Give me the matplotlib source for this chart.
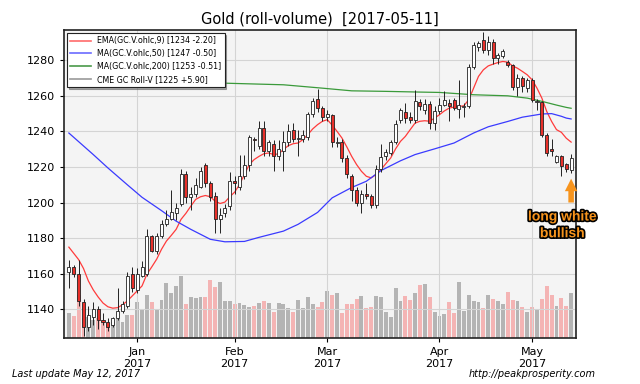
import numpy as np
import matplotlib
matplotlib.use('Agg')
import matplotlib.pyplot as plt
from matplotlib.lines import Line2D
import matplotlib.patheffects as pe

# Daily OHLC, 2016-12-12 .. 2017-05-11 (trading days)
opens = [1161, 1164, 1160, 1144, 1130, 1136, 1140, 1134, 1133, 1131,
         1135, 1139, 1142, 1160, 1151, 1159, 1160, 1181, 1173, 1181,
         1188, 1191, 1194, 1199, 1216, 1203, 1205, 1209, 1221, 1211,
         1204, 1191, 1194, 1198, 1212, 1209, 1215, 1221, 1236, 1232,
         1242, 1229, 1233, 1226, 1229, 1234, 1241, 1236, 1236, 1237,
         1250, 1258, 1253, 1248, 1249, 1233.5, 1234, 1225, 1215, 1207,
         1200, 1205, 1203.5, 1198.4, 1219, 1226, 1228, 1234, 1246.6, 1251,
         1248, 1246.6, 1256.3, 1252.2, 1255.5, 1244.7, 1251.3, 1255, 1256, 1257.4,
         1252.7, 1253.7, 1254.4, 1276, 1287.7, 1291.4, 1285.8, 1290.5, 1281, 1282.4,
         1279, 1277.4, 1264.9, 1269.9, 1264.3, 1269, 1256.7, 1256.8, 1238, 1230,
         1222.7, 1226.4, 1221.7, 1218.6]
highs = [1168, 1165, 1168, 1146, 1142, 1144, 1142, 1138, 1135, 1136,
         1152, 1145, 1161, 1164, 1163, 1167, 1185, 1182, 1183, 1190,
         1196, 1207, 1200, 1219, 1218, 1209, 1214, 1220, 1222, 1212,
         1206, 1197, 1199, 1217, 1215, 1227, 1227, 1238, 1237, 1246,
         1246, 1235, 1235, 1235, 1240, 1244, 1245, 1241, 1241, 1251,
         1259, 1264, 1254, 1252, 1250, 1237, 1236, 1227, 1216, 1209,
         1207, 1211, 1205, 1221, 1233, 1230, 1235, 1246.5, 1253, 1256,
         1251, 1263.4, 1258, 1258, 1257, 1254, 1259, 1262.5, 1258, 1259,
         1269, 1256, 1278, 1290, 1291, 1296, 1293.6, 1292, 1284, 1286.5,
         1280, 1278, 1272, 1271, 1270, 1270, 1258, 1257, 1239, 1236,
         1227, 1227, 1222, 1227.5]
lows = [1152, 1158, 1142, 1125, 1128, 1131, 1129, 1131, 1128, 1130,
        1134, 1138, 1141, 1150, 1149, 1158, 1159, 1172, 1171, 1180,
        1187, 1190, 1190, 1198, 1200, 1196, 1203, 1208, 1209, 1201,
        1183, 1183, 1192, 1196, 1205, 1207, 1213, 1218, 1229, 1230,
        1226, 1226, 1218, 1224, 1218, 1232, 1234, 1226, 1234, 1235,
        1248, 1251, 1246, 1246, 1231, 1231, 1223, 1214, 1201, 1198,
        1194, 1202, 1197, 1197, 1217, 1224, 1227, 1233, 1245, 1245,
        1245, 1245, 1252, 1250, 1241.5, 1241, 1250, 1254, 1246, 1252,
        1247.5, 1248, 1253, 1275, 1285, 1284, 1283, 1278, 1278, 1281,
        1276, 1263, 1260, 1262, 1262, 1256.5, 1252, 1237, 1226, 1226,
        1222, 1214.8, 1217, 1216.6]
closes = [1164, 1160, 1145, 1130, 1137, 1140, 1134, 1133, 1130, 1135,
          1139, 1143, 1159, 1152, 1160, 1164, 1181, 1173, 1181, 1188,
          1191, 1195, 1197, 1216, 1203, 1205, 1210, 1218, 1211, 1203,
          1191, 1193, 1197, 1212, 1211, 1215, 1221, 1237, 1235, 1242,
          1229, 1234, 1226, 1230, 1234, 1240, 1236, 1236.5, 1238, 1250,
          1257, 1253, 1248, 1250, 1234, 1234, 1225, 1216, 1207, 1200,
          1204.6, 1203.5, 1198.4, 1219, 1225.7, 1228.3, 1234, 1244.3, 1251.8, 1247.5,
          1246.6, 1256.9, 1254.4, 1255.5, 1244.7, 1251.3, 1255, 1257.8, 1254, 1253,
          1255, 1254.4, 1276, 1288.6, 1289.5, 1285.8, 1290.5, 1281, 1282.7, 1285.4,
          1277.4, 1264.9, 1270, 1265.3, 1269, 1257.4, 1257.2, 1238.2, 1228, 1229,
          1226, 1220.8, 1219.1, 1225]
# volume, thousand contracts
volume = [152, 132, 258, 120, 126, 108, 120, 96, 78, 96,
          114, 96, 138, 138, 216, 168, 258, 216, 168, 228,
          330, 270, 312, 372, 204, 246, 240, 246, 246, 348,
          306, 336, 222, 222, 204, 210, 198, 183, 189, 207,
          224, 212, 158, 212, 204, 182, 154, 228, 182, 244,
          202, 188, 218, 284, 258, 268, 148, 204, 202, 232,
          252, 178, 188, 252, 244, 158, 124, 298, 222, 252,
          228, 272, 318, 322, 244, 158, 129, 144, 218, 148,
          338, 164, 258, 222, 218, 178, 258, 234, 222, 204,
          274, 228, 222, 188, 158, 188, 168, 232, 312, 258,
          192, 238, 192, 268]

ema9 = [1175, 1171.5, 1168, 1163, 1156, 1151, 1147, 1143.6, 1141.5, 1140.7,
        1141, 1142.6, 1144.8, 1147.6, 1150.4, 1153.2, 1159.8, 1163.9, 1168.2, 1173.8,
        1178.4, 1181.6, 1185, 1190.6, 1194, 1198, 1201.8, 1203.3, 1204, 1203.3,
        1200.8, 1199.5, 1200.3, 1203.3, 1205.9, 1210.2, 1215.8, 1221.4, 1224.2, 1226,
        1227.5, 1227.9, 1227, 1227.4, 1229.8, 1232, 1233.1, 1233.5, 1235.4, 1238.2,
        1241.4, 1243.8, 1245.7, 1246.6, 1243.5, 1240, 1236.3, 1231.3, 1226, 1221.4,
        1217.6, 1214.8, 1213.9, 1215.8, 1218.6, 1221.9, 1225.1, 1230.2, 1234.4, 1237.2,
        1241, 1244.7, 1245.7, 1246, 1245.7, 1247.5, 1249.4, 1251.5, 1253.1, 1253.7,
        1254, 1254.4, 1257.8, 1264.3, 1270.9, 1274.6, 1276.8, 1277.8, 1278.7, 1279.3,
        1278.9, 1276.8, 1275.5, 1273.7, 1271.8, 1269, 1264.3, 1258.7, 1251.2, 1245.6,
        1241, 1239.5, 1236.2, 1234.0]
ma50_idx = [0, 5, 8, 12, 15, 19, 22, 25, 29, 32, 36, 39, 44, 47, 51, 54, 58,
            61, 64, 68, 71, 75, 79, 83, 86, 90, 93, 97, 99, 101, 102, 103]
ma50 = [1239.1, 1227, 1219.5, 1210, 1203, 1195.5, 1189.6, 1185, 1179.4, 1178,
        1178.2, 1180.5, 1184, 1187.8, 1194.5, 1202.7, 1208.5, 1212, 1218, 1223.5,
        1227, 1230.2, 1233.5, 1239.1, 1242.6, 1245.6, 1248, 1249.8, 1250, 1248.5,
        1247.5, 1247]
ma200_idx = [0, 20, 32, 44, 52, 58, 65, 72, 76, 83, 90, 94, 97, 100, 102, 103]
ma200 = [1270, 1268.5, 1267.1, 1266.2, 1264.3, 1262.8, 1262.5, 1262.1, 1261.9,
         1260.6, 1260, 1258.7, 1256.9, 1254.8, 1253.5, 1253]

month_pos = [14, 34, 53, 76, 95]
month_labels = ['Jan\n2017', 'Feb\n2017', 'Mar\n2017', 'Apr\n2017', 'May\n2017']

x = np.arange(len(closes))
o = np.array(opens); c = np.array(closes)
up = c >= o

fig = plt.figure(figsize=(6.4, 3.84), dpi=100)
ax = fig.add_axes([0.1, 0.12, 0.8, 0.802])
axv = ax.twinx()
ax.set_zorder(axv.get_zorder() + 1)
ax.patch.set_visible(False)
axv.patch.set_visible(True)
axv.patch.set_facecolor('#f4f4f4')

# volume
vcol = np.where(up, '#a9a9a9', '#f5a9a9')
axv.bar(x, volume, width=0.8, color=vcol, alpha=0.85, linewidth=0)
axv.set_ylim(0, 1848)
axv.set_yticks([])

# moving averages
ax.plot(x, ema9, color='#ff3b3b', lw=0.9, zorder=2)
ax.plot(ma50_idx, ma50, color='#3a3aff', lw=0.9, zorder=2)
ax.plot(ma200_idx, ma200, color='#3a9a3a', lw=0.9, zorder=2)

# candles
ax.vlines(x, lows, highs, color='#222222', lw=0.7, zorder=3)
body = np.maximum(np.abs(c - o), 0.4)
ax.bar(x, body, bottom=np.minimum(o, c), width=0.62,
       color=np.where(up, 'white', '#e8302a'), edgecolor='#222222',
       linewidth=0.6, zorder=4)

ax.set_xlim(-1, 104)
ax.set_ylim(1124, 1297)
ax.set_yticks(range(1140, 1281, 20))
ax.set_xticks(month_pos)
ax.set_xticklabels(month_labels)
ax.tick_params(labelsize=8, length=3)
ax.grid(True, color='#d4d4d4', lw=0.8)
ax.set_axisbelow(True)
for s in ax.spines.values():
    s.set_color('#222222')
    s.set_linewidth(1.2)
for s in axv.spines.values():
    s.set_visible(False)

ax.set_title('Gold (roll-volume)  [2017-05-11]', fontsize=10.5, pad=5)

handles = [Line2D([], [], color='#ff6b6b', lw=1.2),
           Line2D([], [], color='#6b6bff', lw=1.2),
           Line2D([], [], color='#4a9a4a', lw=1.2),
           Line2D([], [], color='#999999', lw=1.2)]
labels = ['EMA(GC.V.ohlc,9) [1234 -2.20]', 'MA(GC.V.ohlc,50) [1247 -0.50]',
          'MA(GC.V.ohlc,200) [1253 -0.51]', 'CME GC Roll-V [1225 +5.90]']
leg = ax.legend(handles, labels, loc='upper left', fontsize=5.7, frameon=True,
                fancybox=False, shadow={'ox': 1.2, 'oy': -1.2, 'color': '0.35'},
                framealpha=1, edgecolor='#222222',
                handlelength=2.6, borderaxespad=0.4)
leg.get_frame().set_linewidth(0.8)

# annotation
orange = '#f7941d'
ax.annotate('', xy=(103, 1215), xytext=(103, 1198.5),
            arrowprops=dict(arrowstyle='simple,head_width=0.9,head_length=0.9,tail_width=0.4',
                            color=orange, lw=0))
ax.text(101.2, 1187.5, 'long white\nbullish', ha='center', va='center',
        fontsize=10, fontweight='bold', color=orange, family='Liberation Sans',
        linespacing=1.25, zorder=6,
        path_effects=[pe.withStroke(linewidth=2.4, foreground='black')])

fig.text(0.019, 0.017, 'Last update May 12, 2017', fontsize=7, style='italic')
fig.text(0.93, 0.017, 'http://peakprosperity.com', fontsize=7, style='italic', ha='right')

fig.savefig('out.png', dpi=100)
